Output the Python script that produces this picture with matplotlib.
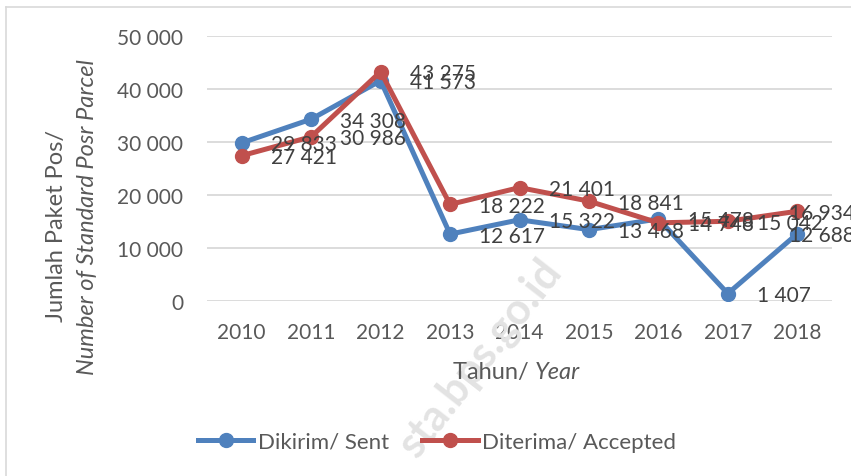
import matplotlib.pyplot as plt
import matplotlib.ticker as mticker
from matplotlib.lines import Line2D

# Data
years = ['2010', '2011', '2012', '2013', '2014', '2015', '2016', '2017', '2018']
sent = [29833, 34308, 41573, 12617, 15322, 13468, 15478, 1407, 12688]
accepted = [27421, 30986, 43275, 18222, 21401, 18841, 14748, 15042, 16934]

blue = '#4F81BD'
red = '#C0504D'
txt = '#595959'
fs = 15
fs_title = 17

plt.rcParams['font.family'] = ['Lato', 'DejaVu Sans']

fig = plt.figure(figsize=(8.51, 4.77), dpi=100)
ax = fig.add_axes([207 / 851, 1 - 302 / 477, 625 / 851, 265 / 477])

x = list(range(len(years)))

# watermark
fig.text(480 / 851, 1 - 358 / 477, 'sta.bps.go.id', rotation=52, fontsize=31,
         fontweight='bold', color='#e3e3e3', ha='center', va='center', zorder=0)

ax.plot(x, sent, color=blue, lw=3.6, marker='o', ms=10, zorder=3, solid_capstyle='round')
ax.plot(x, accepted, color=red, lw=3.6, marker='o', ms=10, zorder=4, solid_capstyle='round')

def fmt(v):
    return f'{v:,}'.replace(',', ' ')

# labels to the right of points; the last one is pushed back inside the chart
for series in (sent, accepted):
    for xi, v in zip(x, series):
        dx = 21 if xi < len(x) - 1 else -6
        ax.annotate(fmt(v), (xi, v), xytext=(dx, -1), textcoords='offset points',
                    ha='left', va='center', fontsize=fs, color='#404040', zorder=5,
                    annotation_clip=False)

ax.set_xlim(-0.5, 8.5)
ax.set_ylim(0, 50000)
ax.set_xticks(x)
ax.set_xticklabels(years)
ax.set_yticks(range(0, 50001, 10000))
ax.yaxis.set_major_formatter(mticker.FuncFormatter(lambda v, p: fmt(int(v))))
ax.tick_params(length=0, labelsize=fs, labelcolor=txt)
ax.tick_params(axis='y', pad=17)
ax.tick_params(axis='x', pad=15)
ax.grid(axis='y', color='#d9d9d9', lw=1.3)
ax.set_axisbelow(True)
for s in ax.spines.values():
    s.set_visible(False)
ax.patch.set_alpha(0)

# axis titles
fig.text(57 / 851, 1 - 226 / 477, 'Jumlah Paket Pos/', rotation=90, fontsize=fs_title,
         color=txt, ha='center', va='center')
fig.text(88 / 851, 1 - 217 / 477, 'Number of Standard Posr Parcel', rotation=90,
         fontsize=fs_title, color=txt, style='italic', ha='center', va='center')
fig.text(535 / 851, 1 - 373 / 477, 'Tahun/ ', fontsize=fs_title, color=txt,
         ha='right', va='center')
fig.text(535 / 851, 1 - 373 / 477, 'Year', fontsize=fs_title, color=txt, style='italic',
         ha='left', va='center')

# legend
handles = [Line2D([], [], color=blue, lw=3.6, marker='o', ms=10),
           Line2D([], [], color=red, lw=3.6, marker='o', ms=10)]
fig.legend(handles, ['Dikirim/ Sent', 'Diterima/ Accepted'], loc='center',
           bbox_to_anchor=(437 / 851, 1 - 443 / 477), ncol=2, frameon=False,
           fontsize=16, labelcolor=txt, handlelength=2.5, columnspacing=1.5,
           handletextpad=0.2)

# chart border
fig.add_artist(Line2D([6 / 851, 6 / 851], [0, 1 - 8 / 477], color='#d9d9d9', lw=1.2))
fig.add_artist(Line2D([6 / 851, 1], [1 - 8 / 477, 1 - 8 / 477], color='#d9d9d9', lw=1.2))

fig.savefig('out.png', dpi=100)
